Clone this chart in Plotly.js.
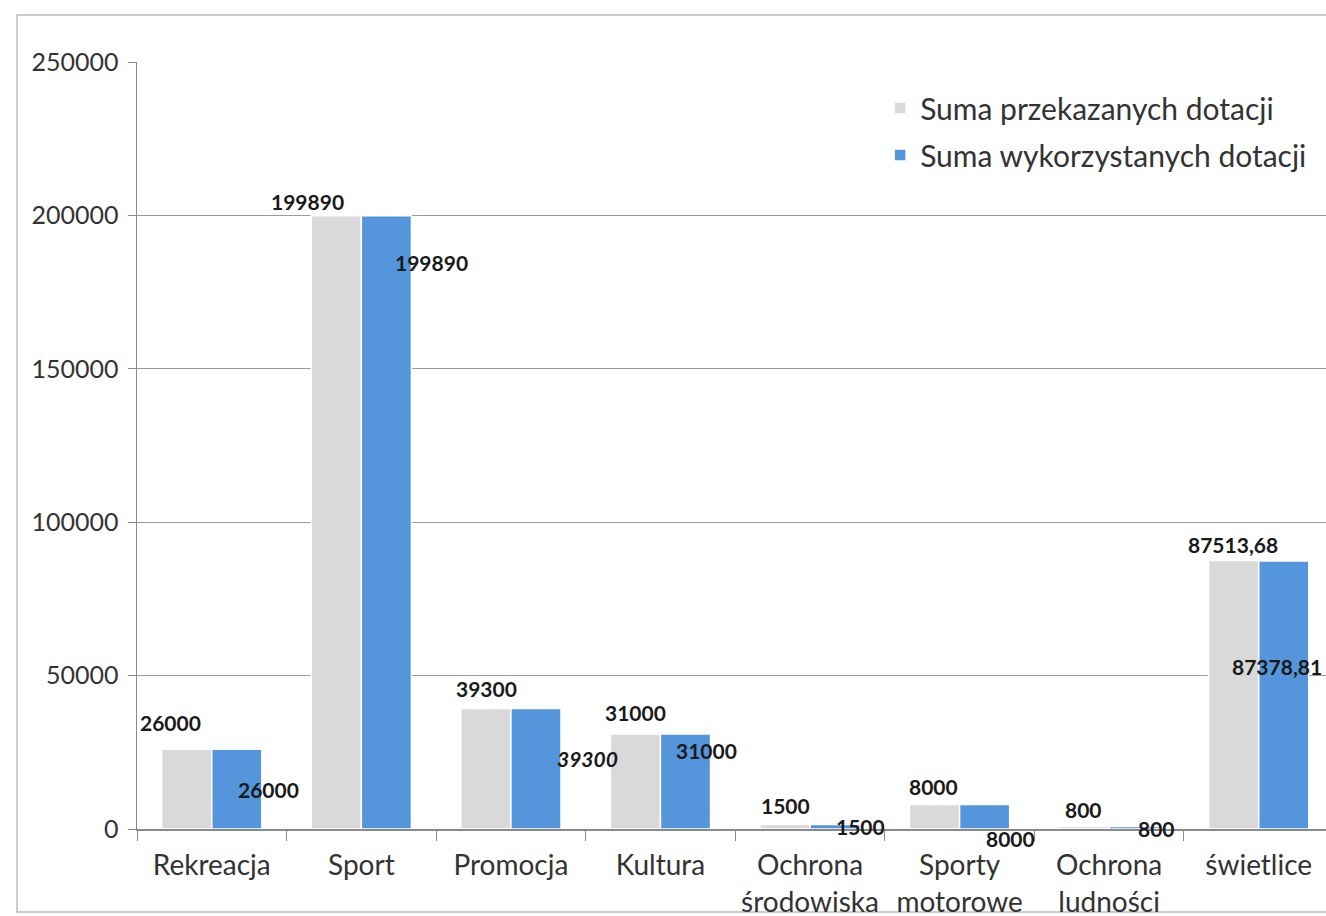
<!DOCTYPE html>
<html>
<head>
<meta charset="utf-8">
<script src="https://cdn.plot.ly/plotly-3.0.1.min.js"></script>
<style>
  html, body { margin: 0; padding: 0; background: #fff; }
  #chart { width: 1326px; height: 916px; }
</style>
</head>
<body>
<div id="chart"></div>
<script>
// ---- data ----
const categories = ['Rekreacja', 'Sport', 'Promocja', 'Kultura', 'Ochrona<br>środowiska', 'Sporty<br>motorowe', 'Ochrona<br>ludności', 'świetlice'];
const przekazane = [26000, 199890, 39300, 31000, 1500, 8000, 800, 87513.68];
const wykorzystane = [26000, 199890, 39300, 31000, 1500, 8000, 800, 87378.81];
const przekazaneLabels = ['26000', '199890', '39300', '31000', '1500', '8000', '800', '87513,68'];
const wykorzystaneLabels = ['26000', '199890', '39300', '31000', '1500', '8000', '800', '87378,81'];
const seriesNames = ['Suma przekazanych dotacji', 'Suma wykorzystanych dotacji'];
const yTicks = [0, 50000, 100000, 150000, 200000, 250000];

// ---- label placement (pixel offsets from category centre / bar top) ----
const greyDx = [-41, -54, -24, -25, -25, -26, -26, -26];
const greyDy = [27, 14, 20, 21, 19, 18, 17, 16];
const blueDx = [57, 70, 77, 46, 50, 51, 47, 18];
const blueDy = [-40, -47, -50, -17, -2, -34, -2, -106];
const blueItalic = [false, false, true, false, false, false, false, false];

const GREY = '#d9d9d9';
const BLUE = '#5595dc';
const FONT = 'Lato, "Open Sans", sans-serif';

const traces = [
  {
    type: 'bar', name: seriesNames[0], x: categories, y: przekazane,
    marker: { color: GREY, line: { color: '#ffffff', width: 1.5 } },
    legend: 'legend', hoverinfo: 'x+y'
  },
  {
    type: 'bar', name: seriesNames[1], x: categories, y: wykorzystane,
    marker: { color: BLUE, line: { color: '#ffffff', width: 1.5 } },
    legend: 'legend2', hoverinfo: 'x+y'
  }
];

const annotations = [];
categories.forEach((c, i) => {
  annotations.push({
    x: c, y: przekazane[i], xref: 'x', yref: 'y',
    text: przekazaneLabels[i], showarrow: false,
    xshift: greyDx[i], yshift: greyDy[i],
    font: { family: FONT, size: 21, color: '#1a1a1a', weight: 'bold' }
  });
  annotations.push({
    x: c, y: wykorzystane[i], xref: 'x', yref: 'y',
    text: blueItalic[i] ? '<i>' + wykorzystaneLabels[i] + '</i>' : wykorzystaneLabels[i],
    showarrow: false,
    xshift: blueDx[i], yshift: blueDy[i],
    font: { family: FONT, size: 21, color: '#1a1a1a', weight: 'bold' }
  });
});

const layout = {
  width: 1326, height: 916,
  margin: { l: 137, r: 0, t: 62, b: 87, pad: 0 },
  paper_bgcolor: '#ffffff', plot_bgcolor: '#ffffff',
  barmode: 'group', bargap: 0.33, bargroupgap: 0,
  showlegend: true,
  font: { family: FONT, color: '#333333' },
  xaxis: {
    type: 'category', range: [-0.5, 7.45],
    showline: true, linecolor: '#8a8a8a', linewidth: 1.5,
    ticks: 'outside', tickson: 'boundaries', ticklen: 10, tickcolor: '#8a8a8a',
    tickfont: { family: FONT, size: 28, color: '#333333' },
    tickangle: 0, ticklabelstandoff: 11,
    showgrid: false, zeroline: false, fixedrange: true
  },
  yaxis: {
    range: [0, 250000], tickvals: yTicks, ticktext: yTicks.map(String),
    showline: true, linecolor: '#8a8a8a', linewidth: 1.5,
    ticks: 'outside', ticklen: 8, tickcolor: '#8a8a8a',
    showgrid: true, gridcolor: '#9a9a9a', gridwidth: 1,
    zeroline: false,
    tickfont: { family: FONT, size: 25, color: '#333333' },
    ticklabelstandoff: 4, fixedrange: true
  },
  legend: {
    x: 0.625, y: 1 - (99 - 62 - 17) / 767, xref: 'paper', yref: 'paper',
    xanchor: 'left', yanchor: 'top', bgcolor: 'rgba(0,0,0,0)',
    font: { family: FONT, size: 30, color: '#333333' }
  },
  legend2: {
    x: 0.625, y: 1 - (146 - 62 - 17) / 767, xref: 'paper', yref: 'paper',
    xanchor: 'left', yanchor: 'top', bgcolor: 'rgba(0,0,0,0)',
    font: { family: FONT, size: 30, color: '#333333' }
  },
  shapes: [
    { type: 'rect', xref: 'paper', yref: 'paper',
      x0: (17 - 137) / 1189, x1: 1.02, y0: (829 - 912) / 767, y1: (829 - 15) / 767,
      line: { color: '#bdbdbd', width: 1.5 }, fillcolor: 'rgba(0,0,0,0)', layer: 'below' }
  ],
  annotations: annotations
};

Plotly.newPlot('chart', traces, layout, { displayModeBar: false, staticPlot: true });
</script>
</body>
</html>
